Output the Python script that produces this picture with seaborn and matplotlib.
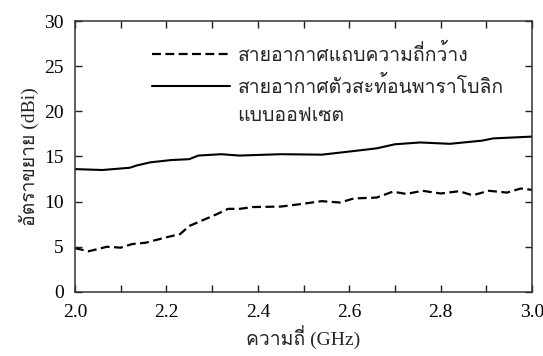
import numpy as np
import pandas as pd
import seaborn as sns
import matplotlib.pyplot as plt
from matplotlib import font_manager
from matplotlib.ft2font import FT2Font
from matplotlib.ticker import MultipleLocator

wide_f = [2.0, 2.03, 2.07, 2.10, 2.125, 2.155, 2.20, 2.23, 2.25, 2.28, 2.31, 2.335,
          2.36, 2.39, 2.45, 2.49, 2.54, 2.58, 2.61, 2.66, 2.695, 2.725, 2.76, 2.80,
          2.84, 2.87, 2.905, 2.945, 2.975, 3.0]
wide_g = [4.85, 4.5, 5.0, 4.9, 5.3, 5.45, 6.05, 6.4, 7.3, 7.95, 8.6, 9.2,
          9.2, 9.4, 9.45, 9.7, 10.05, 9.9, 10.35, 10.45, 11.1, 10.85, 11.2, 10.9,
          11.15, 10.7, 11.2, 11.0, 11.45, 11.3]
para_f = [2.0, 2.06, 2.12, 2.135, 2.165, 2.21, 2.25, 2.27, 2.32, 2.36, 2.45, 2.54,
          2.61, 2.66, 2.70, 2.755, 2.82, 2.89, 2.915, 3.0]
para_g = [13.6, 13.5, 13.75, 14.0, 14.35, 14.6, 14.7, 15.1, 15.25, 15.1, 15.25, 15.2,
          15.6, 15.9, 16.35, 16.55, 16.4, 16.75, 17.0, 17.2]
labels = ["สายอากาศแถบความถี่กว้าง", "สายอากาศตัวสะท้อนพาราโบลิก", "แบบออฟเซต"]

sns.set_style("ticks")

# find something that can draw Thai
thai = None
for f in font_manager.fontManager.ttflist:
    try:
        if 0x0E01 in FT2Font(f.fname).get_charmap():
            thai = f.name
            break
    except Exception:
        pass
fams = ['Liberation Serif'] + ([thai] if thai else []) + ['DejaVu Sans']
plt.rcParams['font.family'] = fams

df1 = pd.DataFrame({'f': wide_f, 'g': wide_g})
df2 = pd.DataFrame({'f': para_f, 'g': para_g})

fig = plt.figure(figsize=(5.43, 3.56), dpi=100)
ax = fig.add_axes([0.138, 0.18, 0.842, 0.761])
sns.lineplot(data=df1, x='f', y='g', ax=ax, color='black', lw=1.6,
             linestyle=(0, (4, 2)), label=labels[0])
sns.lineplot(data=df2, x='f', y='g', ax=ax, color='black', lw=1.5,
             label=labels[1])
ax.plot([], [], color='none', label=labels[2])

ax.set_xlim(2.0, 3.0)
ax.set_ylim(0, 30)
ax.xaxis.set_major_locator(MultipleLocator(0.2))
ax.xaxis.set_minor_locator(MultipleLocator(0.1))
ax.yaxis.set_major_locator(MultipleLocator(5))
ax.xaxis.set_major_formatter(plt.FuncFormatter(lambda v, p: f"{v:.1f}"))
ax.tick_params(which='both', direction='in', top=True, right=True,
               length=5, width=1, labelsize=14, colors='#222222',
               labelcolor='black')
ax.tick_params(axis='x', pad=9)
ax.tick_params(axis='y', pad=8)
for s in ax.spines.values():
    s.set_color('#333333')
    s.set_linewidth(1.1)

ax.set_xlabel("ความถี่ (GHz)", fontsize=14, labelpad=3)
ax.set_ylabel("อัตราขยาย (dBi)", fontsize=14, labelpad=4)

ax.legend(loc='upper left', bbox_to_anchor=(0.13, 0.98), frameon=False,
          fontsize=14, handlelength=4.0, handletextpad=0.4, labelspacing=0.55)

fig.savefig('out.png', dpi=100)
